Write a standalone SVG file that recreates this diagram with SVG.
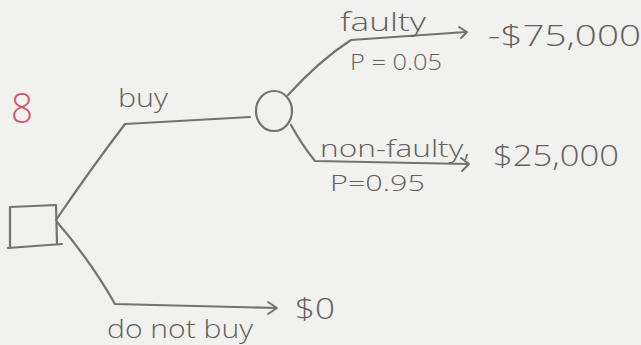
<svg xmlns="http://www.w3.org/2000/svg" width="641" height="345" viewBox="0 0 641 345">
<defs>
<style>
.ln{fill:none;stroke:#75716d;stroke-width:2.2;stroke-linecap:round;stroke-linejoin:round}
.ah{fill:none;stroke:#75716d;stroke-width:2;stroke-linecap:round;stroke-linejoin:round}
.t{font-family:"Open Sans","Liberation Sans",sans-serif;fill:#635f5c;font-weight:300}
</style>
</defs>
<rect width="641" height="345" fill="#f1f1ef"/>
<g id="annotation">
<text x="11" y="123" font-size="42" textLength="22" lengthAdjust="spacingAndGlyphs" style="font-family:'Open Sans','Liberation Sans',sans-serif;font-weight:300;fill:#d3556e">8</text>
</g>
<g id="decision">
<path class="ln" d="M10,207 L56,205 L57,243 M8,248 L62,244 M10,207 L10,247"/>
</g>
<g id="chance">
<ellipse class="ln" cx="274" cy="111" rx="18" ry="20"/>
</g>
<g id="connectors">
<path class="ln" d="M56,220 Q90,170 125,124 L250,117"/>
<path class="ln" d="M57,222 Q90,260 115,304 L276,308"/>
<path class="ah" d="M268,302 L277,308 L268,314"/>
<path class="ln" d="M288,95 Q320,60 351,40 L466,32"/>
<path class="ah" d="M459,27 L467,32 L461,38"/>
<path class="ln" d="M291,125 Q302,145 315,161 L468,164"/>
<path class="ah" d="M461,158 L469,164 L462,171"/>
</g>
<g id="labels">
<text class="t" x="118" y="107" font-size="25" textLength="50" lengthAdjust="spacingAndGlyphs">buy</text>
<text class="t" x="340" y="31" font-size="26" textLength="86" lengthAdjust="spacingAndGlyphs">faulty</text>
<text class="t" x="350" y="70" font-size="22" textLength="92" lengthAdjust="spacingAndGlyphs">P = 0.05</text>
<text class="t" x="488" y="46" font-size="30" textLength="153" lengthAdjust="spacingAndGlyphs">-$75,000</text>
<text class="t" x="320" y="157" font-size="24" textLength="150" lengthAdjust="spacingAndGlyphs">non-faulty,</text>
<text class="t" x="330" y="191" font-size="22" textLength="95" lengthAdjust="spacingAndGlyphs">P=0.95</text>
<text class="t" x="493" y="166" font-size="29" textLength="126" lengthAdjust="spacingAndGlyphs">$25,000</text>
<text class="t" x="295" y="319" font-size="29" textLength="40" lengthAdjust="spacingAndGlyphs">$0</text>
<text class="t" x="107" y="338" font-size="26" textLength="146" lengthAdjust="spacingAndGlyphs">do not buy</text>
</g>
</svg>
